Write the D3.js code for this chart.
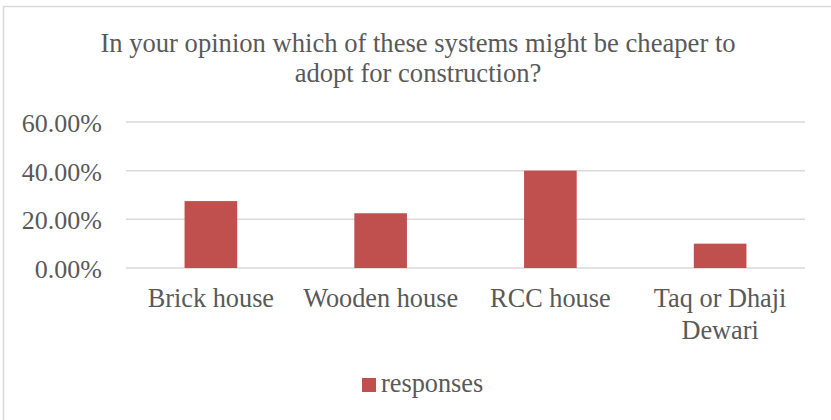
<!DOCTYPE html>
<html>
<head>
<meta charset="utf-8">
<script src="https://cdn.jsdelivr.net/npm/d3@7"></script>
<style>
  html, body { margin: 0; padding: 0; background: #fff; }
  svg { display: block; }
</style>
</head>
<body>
<svg id="chart" width="831" height="420"></svg>
<script>
const titleLines = ["In your opinion which of these systems might be cheaper to", "adopt for construction?"];
const categories = [["Brick house"], ["Wooden house"], ["RCC house"], ["Taq or Dhaji", "Dewari"]];
const values = [0.275, 0.225, 0.40, 0.10];
const yTicks = [0, 0.2, 0.4, 0.6];
const seriesName = "responses";

const FONT = "'Liberation Serif', 'Times New Roman', Tinos, serif";
const svg = d3.select("#chart").style("font-family", FONT);
const W = 831, H = 420;
const m = { left: 126, right: 26, top: 122, bottom: 152 };
const color = "#c0504d";
const textColor = "#595959";

// border (left + top visible)
svg.append("rect").attr("x", 3.5).attr("y", 6.5).attr("width", 900).attr("height", 500)
  .attr("fill", "none").attr("stroke", "#d9d9d9").attr("stroke-width", 1.5);

const x = d3.scaleBand().domain(d3.range(categories.length))
  .range([m.left, W - m.right]).paddingInner(0.69).paddingOuter(0.345);
const y = d3.scaleLinear().domain([0, 0.6]).range([H - m.bottom, m.top]);

// title
svg.append("text").attr("x", 418).attr("y", 52).attr("text-anchor", "middle")
  .style("font-family", FONT).style("font-size", "26.6px").style("fill", textColor)
  .selectAll("tspan").data(titleLines).join("tspan")
  .attr("x", 418).attr("dy", (d, i) => i === 0 ? 0 : 30).text(d => d);

// gridlines
svg.append("g").selectAll("line").data(yTicks).join("line")
  .attr("x1", m.left).attr("x2", W - m.right)
  .attr("y1", d => y(d)).attr("y2", d => y(d))
  .attr("stroke", "#d9d9d9").attr("stroke-width", 1.5);

// y axis labels
const yAxis = d3.axisLeft(y).tickValues(yTicks).tickSize(0).tickPadding(0)
  .tickFormat(d => (d * 100).toFixed(2) + "%");
const ya = svg.append("g").attr("transform", `translate(${102},0)`).call(yAxis)
  .attr("font-family", null).attr("font-size", null);
ya.select(".domain").remove();
ya.selectAll("text").style("font-family", FONT).style("font-size", "26px")
  .attr("fill", textColor).attr("dy", "0.36em");

// bars
svg.append("g").selectAll("rect").data(values).join("rect")
  .attr("x", (d, i) => x(i)).attr("width", x.bandwidth())
  .attr("y", d => y(d)).attr("height", d => y(0) - y(d))
  .attr("fill", color);

// x labels
const xl = svg.append("g").selectAll("text").data(categories).join("text")
  .attr("text-anchor", "middle").attr("y", 307)
  .style("font-family", FONT).style("font-size", "26.3px").style("fill", textColor);
xl.selectAll("tspan").data((d, i) => d.map(t => ({ t, i }))).join("tspan")
  .attr("x", d => x(d.i) + x.bandwidth() / 2)
  .attr("dy", (d, j) => j === 0 ? 0 : 31.5).text(d => d.t);

// legend
const lg = svg.append("g");
lg.append("rect").attr("x", 362).attr("y", 378).attr("width", 14).attr("height", 14).attr("fill", color);
lg.append("text").attr("x", 381).attr("y", 392)
  .style("font-family", FONT).style("font-size", "26.3px").style("fill", textColor).text(seriesName);
</script>
</body>
</html>
